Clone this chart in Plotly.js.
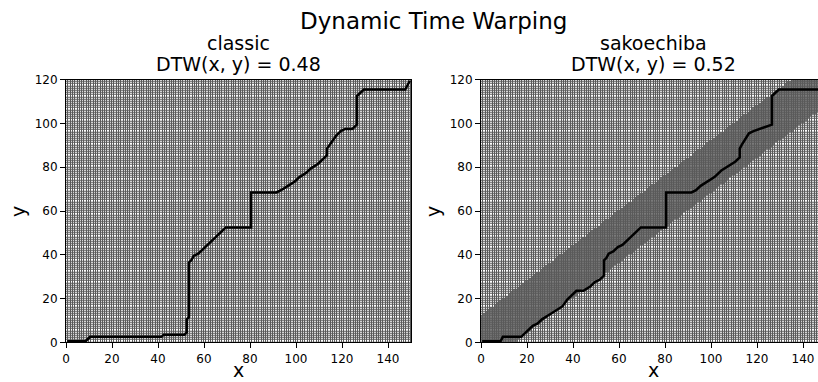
<!DOCTYPE html>
<html><head><meta charset="utf-8">
<script src="https://cdn.plot.ly/plotly-3.0.1.min.js"></script>
<style>
html,body{margin:0;padding:0;overflow:hidden;background:#fff;width:818px;height:382px}
#chart{width:866px;height:382px}
</style>
</head><body><div id="chart"></div>
<script>
// ---- data ----
const nX = 150;            // timestamps of x
const nY = 120;            // timestamps of y
const methods = ['classic', 'sakoechiba'];
const dtwScores = ['0.48', '0.52'];
const windowSize = 0.1;    // Sakoe-Chiba band width (fraction)
const xTicks = [0, 20, 40, 60, 80, 100, 120, 140];
const yTicks = [0, 20, 40, 60, 80, 100, 120];

// optimal path (cell indices), classic
const classicPathX = [0, 8, 9, 10, 41, 42, 51, 52, 52, 53, 53, 54, 55, 57, 59, 61, 63, 65, 69, 80, 80, 91, 93, 96, 99, 101, 104, 106, 109, 111, 113, 113, 115, 117, 119, 121, 124, 126, 126, 128, 129, 147, 148, 149];
const classicPathY = [0, 0, 1, 2, 2, 3, 3, 4, 10, 11, 36, 37, 39, 40, 42, 44, 46, 48, 52, 52, 68, 68, 69, 71, 73, 75, 77, 79, 81, 83, 85, 88, 91, 94, 96, 97, 97, 99, 112, 114, 115, 115, 117, 119];

// optimal path (cell indices), sakoechiba
const sakoePathX = [0, 8, 9, 17, 19, 22, 24, 26, 29, 32, 35, 37, 40, 41, 44, 47, 49, 51, 53, 53, 54, 55, 57, 59, 61, 63, 65, 67, 69, 80, 80, 91, 93, 95, 98, 101, 104, 107, 110, 112, 112, 113, 115, 116, 118, 121, 124, 126, 126, 128, 129, 147, 148, 149];
const sakoePathY = [0, 0, 2, 2, 4, 7, 8, 10, 12, 14, 16, 19, 22, 23, 23, 25, 27, 28, 30, 37, 38, 40, 41, 43, 44, 46, 48, 50, 52, 52, 68, 68, 69, 71, 73, 75, 78, 80, 82, 84, 88, 90, 93, 95, 96, 97, 98, 99, 112, 114, 115, 115, 117, 119];

// ---- build matrices ----
function buildMatrix(withBand) {
  const scale = (nY - 1) / (nX - 1);
  const half = windowSize * nX * scale;
  const z = [];
  for (let j = 0; j < nY; j++) {
    const row = [];
    for (let i = 0; i < nX; i++) {
      row.push(withBand && Math.abs(j - i * scale) <= half ? 0.5 : 0);
    }
    z.push(row);
  }
  return z;
}

const greys = [[0, '#ffffff'], [0.5, '#7a7a7a'], [1, '#000000']];
const font = 'DejaVu Sans, Liberation Sans, sans-serif';

function heat(z, xa, ya) {
  return {type: 'heatmap', z: z, x0: 0.5, dx: 1, y0: 0.5, dy: 1,
    colorscale: greys, zmin: 0, zmax: 1, showscale: false,
    xgap: 1, ygap: 1, hoverinfo: 'skip', xaxis: xa, yaxis: ya};
}
function path(px, py, xa, ya) {
  return {type: 'scatter', mode: 'lines',
    x: px.map(v => v + 0.5), y: py.map(v => v + 0.5),
    line: {color: '#000000', width: 2.5}, hoverinfo: 'skip', xaxis: xa, yaxis: ya};
}

const data = [
  heat(buildMatrix(false), 'x', 'y'),
  path(classicPathX, classicPathY, 'x', 'y'),
  heat(buildMatrix(true), 'x2', 'y2'),
  path(sakoePathX, sakoePathY, 'x2', 'y2')
];

const W = 866, H = 382;
const yDom = [(H - 342.3) / H, (H - 79.7) / H];
function xax(dom, anchor) {
  return {domain: dom, anchor: anchor, range: [0, nX], tickvals: xTicks,
    ticks: 'outside', ticklen: 5, tickwidth: 1, tickcolor: '#000',
    showline: true, mirror: true, linecolor: '#000', linewidth: 1,
    showgrid: false, zeroline: false, fixedrange: true,
    tickfont: {family: font, size: 12, color: '#000'}};
}
function yax(anchor) {
  return {domain: yDom, anchor: anchor, range: [0, nY], tickvals: yTicks,
    ticks: 'outside', ticklen: 5, tickwidth: 1, tickcolor: '#000',
    showline: true, mirror: true, linecolor: '#000', linewidth: 1,
    showgrid: false, zeroline: false, fixedrange: true,
    tickfont: {family: font, size: 12, color: '#000'}};
}

const d1 = [66 / W, 411 / W], d2 = [481 / W, 826 / W];
const c1 = (d1[0] + d1[1]) / 2, c2 = (d2[0] + d2[1]) / 2;
function ann(text, x, yPx, size, angle) {
  return {text: text, x: x, y: 1 - yPx / H, xref: 'paper', yref: 'paper',
    xanchor: 'center', yanchor: 'middle', showarrow: false, textangle: angle || 0,
    font: {family: font, size: size, color: '#000'}};
}

const layout = {
  width: W, height: H,
  margin: {l: 0, r: 0, t: 0, b: 0},
  paper_bgcolor: '#ffffff', plot_bgcolor: '#5a5a5a',
  showlegend: false,
  xaxis: xax(d1, 'y'), yaxis: yax('x'),
  xaxis2: xax(d2, 'y2'), yaxis2: yax('x2'),
  annotations: [
    ann('Dynamic Time Warping', 0.5, 21, 23),
    ann(methods[0], c1, 43, 19),
    ann('DTW(x, y) = ' + dtwScores[0], c1, 64, 19),
    ann(methods[1], c2, 43, 19),
    ann('DTW(x, y) = ' + dtwScores[1], c2, 64, 19),
    ann('x', c1, 370, 19),
    ann('x', c2, 370, 19),
    ann('y', 18 / W, 212, 19, -90),
    ann('y', 433 / W, 212, 19, -90)
  ]
};

Plotly.newPlot('chart', data, layout, {staticPlot: true, displayModeBar: false});
</script>
</body></html>
